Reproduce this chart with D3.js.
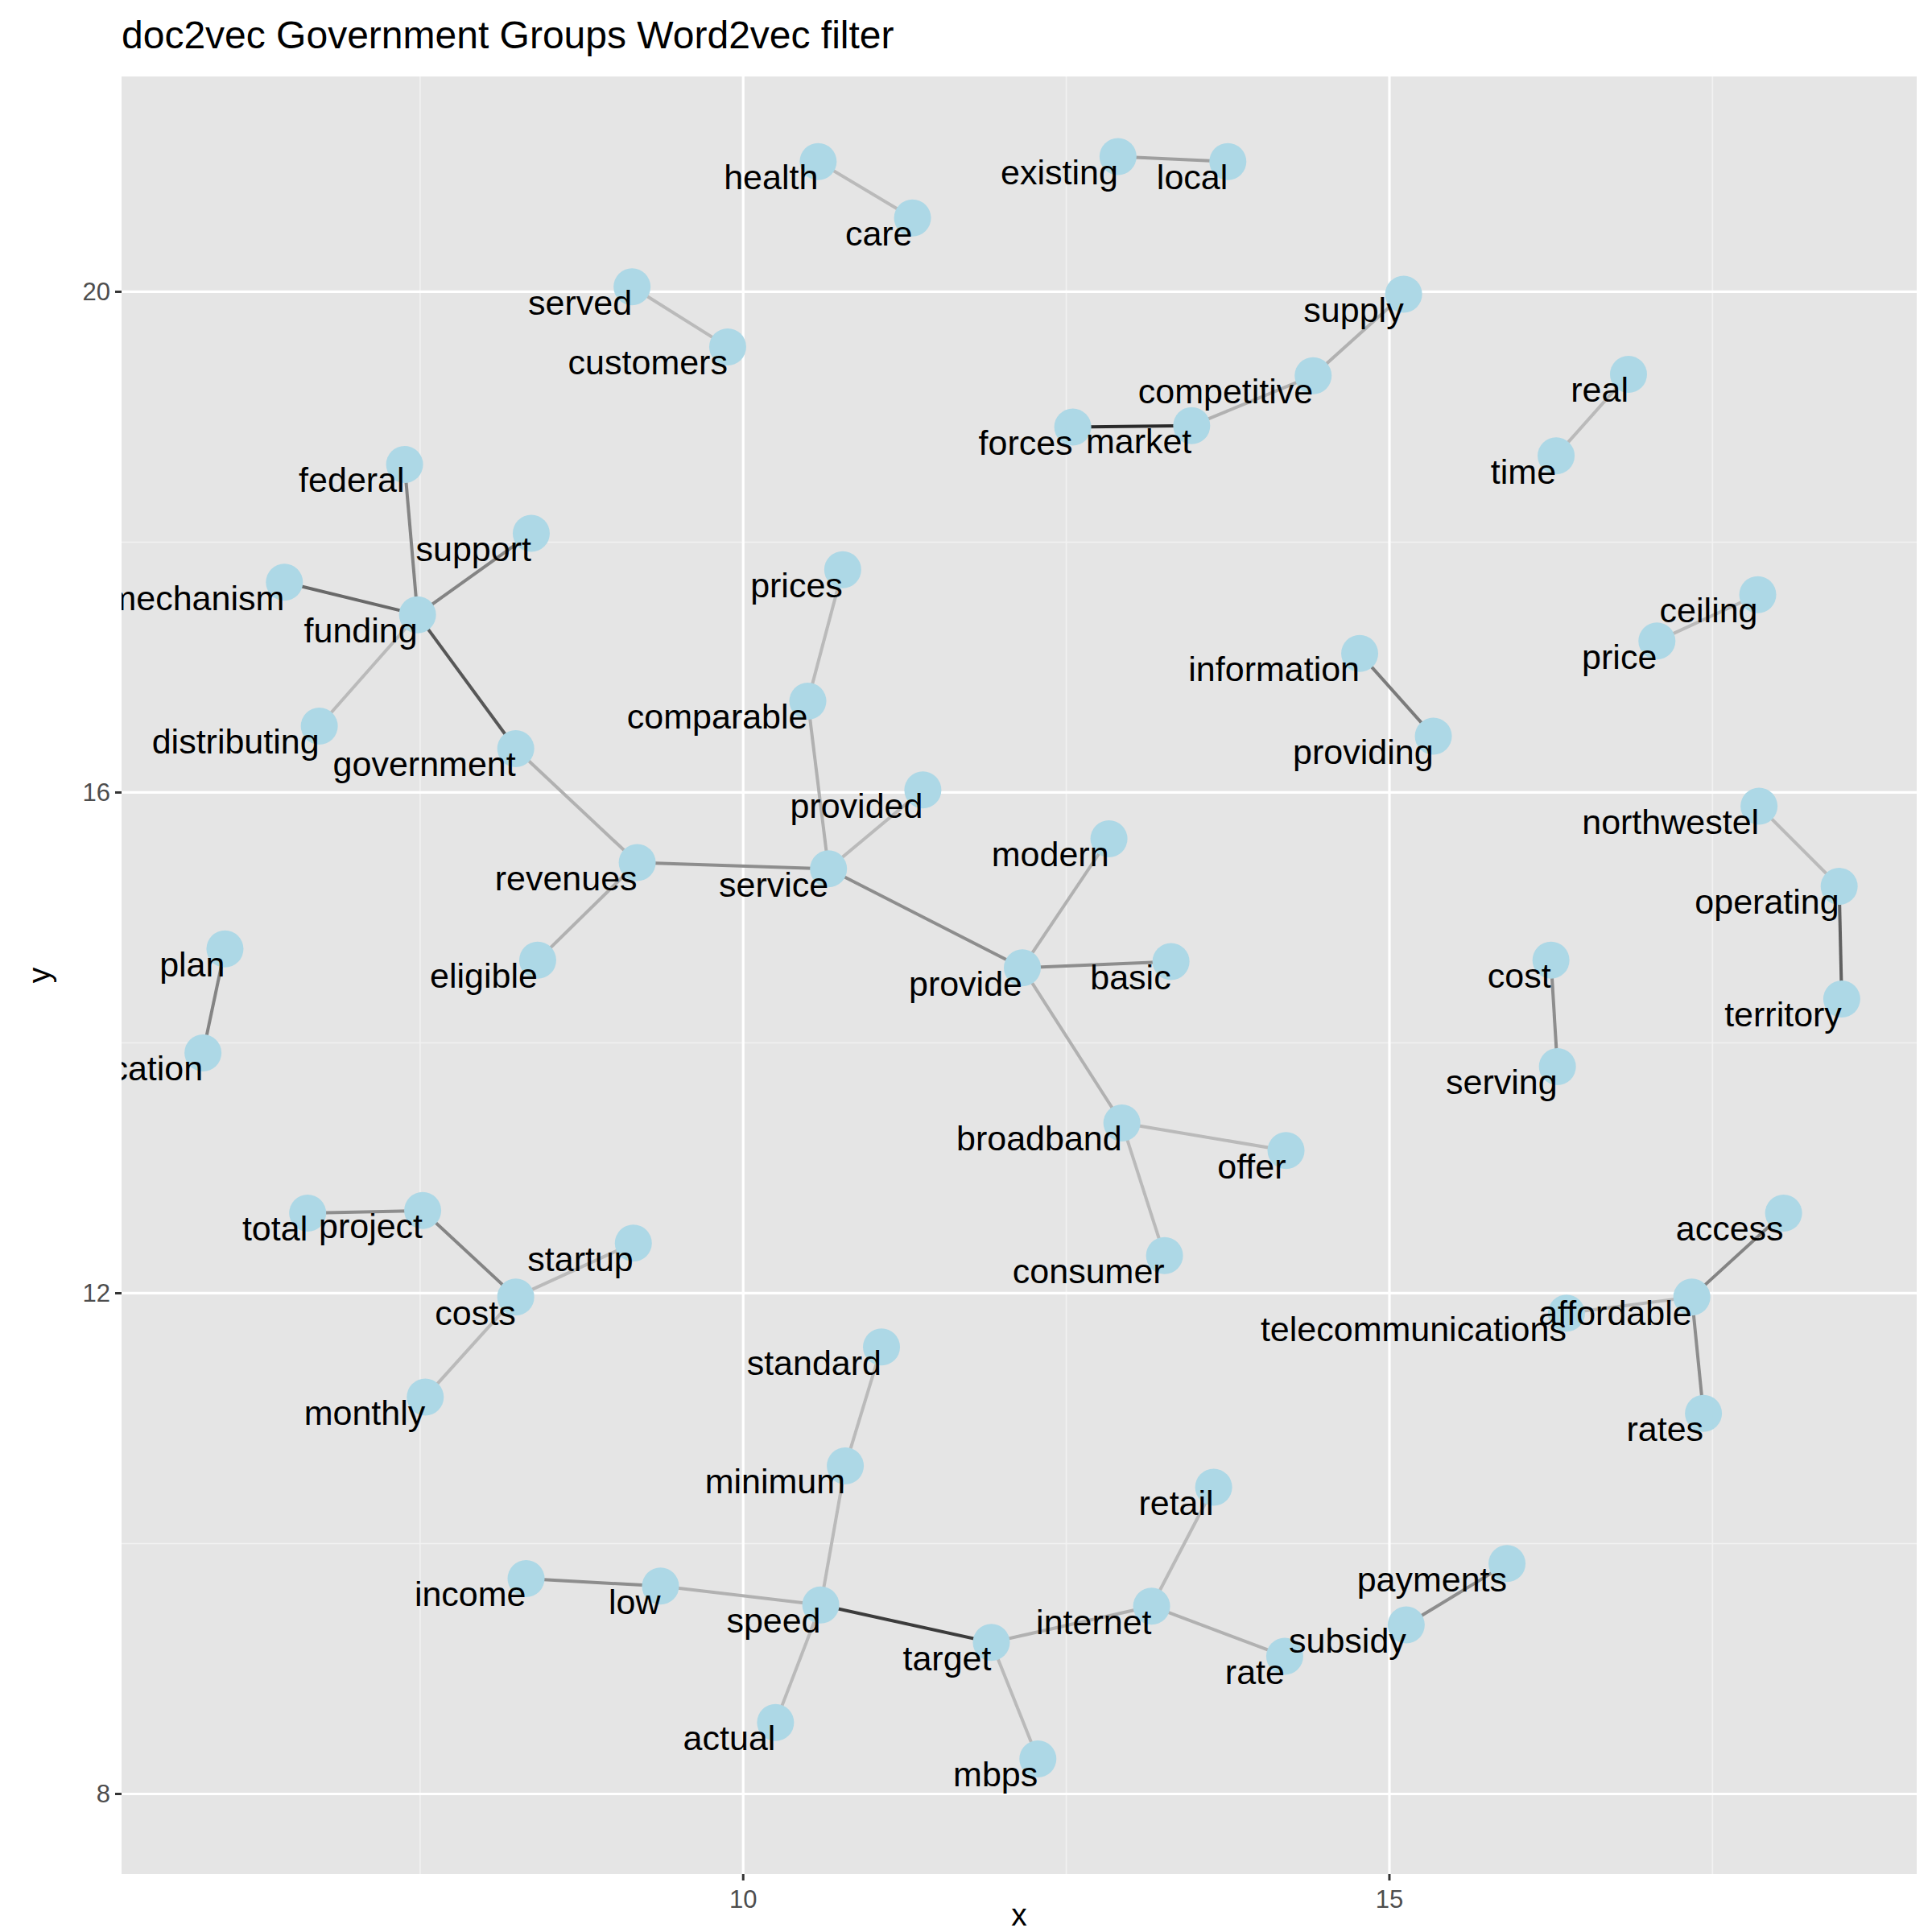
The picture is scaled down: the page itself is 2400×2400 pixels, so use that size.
<!DOCTYPE html>
<html><head><meta charset="utf-8">
<script src="https://cdn.jsdelivr.net/npm/d3@7"></script>
<style>body{margin:0;background:#fff;font-family:"Liberation Sans",Arial,sans-serif;}</style>
</head><body><svg id="chart" width="2400" height="2400"></svg>
<script>
// word positions
var words = ["health","care","existing","local","served","customers","supply","competitive","market","forces","real","time",
  "federal","support","mechanism","funding","distributing","government","prices","comparable","provided","service","revenues","eligible",
  "modern","provide","basic","information","providing","ceiling","price","northwestel","operating","territory","cost","serving",
  "plan","application","broadband","offer","consumer","total","project","costs","startup","monthly","access","affordable",
  "telecommunications","rates","standard","minimum","retail","income","low","speed","target","internet","rate","subsidy","payments","actual","mbps"];
var xs = [10.58,11.31,12.90,13.75,9.14,9.88,15.11,14.41,13.47,12.55,16.85,16.29,
  7.38,8.36,6.45,7.48,6.72,8.24,10.77,10.50,11.39,10.66,9.18,8.41,
  12.83,12.16,13.31,14.77,15.34,17.85,17.07,17.86,18.48,18.50,16.25,16.30,
  5.99,5.82,12.93,14.20,13.26,6.63,7.52,8.24,9.15,7.54,18.05,17.34,
  16.37,17.43,11.07,10.79,13.64,8.32,9.36,10.60,11.92,13.16,14.19,15.13,15.91,10.25,12.28];
var ys = [21.04,20.59,21.08,21.04,20.04,19.56,19.98,19.33,18.93,18.92,19.34,18.69,
  18.62,18.07,17.68,17.42,16.53,16.35,17.78,16.73,16.02,15.39,15.44,14.66,
  15.63,14.60,14.65,17.11,16.45,17.58,17.21,15.89,15.25,14.35,14.66,13.81,
  14.75,13.92,13.36,13.14,12.30,12.64,12.66,11.97,12.40,11.17,12.64,11.97,
  11.84,11.04,11.57,10.62,10.45,9.72,9.66,9.51,9.21,9.50,9.10,9.35,9.84,8.57,8.28];
// links: [from, to, strength]
var edges = [["health","care",0.2],["existing","local",0.35],["served","customers",0.2],["supply","competitive",0.25],
  ["competitive","market",0.25],["market","forces",1],["real","time",0.2],["federal","funding",0.5],["support","funding",0.5],
  ["mechanism","funding",0.65],["distributing","funding",0.2],["funding","government",0.75],["government","revenues",0.25],
  ["revenues","service",0.45],["revenues","eligible",0.25],["prices","comparable",0.2],["comparable","service",0.25],
  ["provided","service",0.2],["service","provide",0.45],["modern","provide",0.25],["provide","basic",0.45],
  ["provide","broadband",0.25],["broadband","offer",0.2],["broadband","consumer",0.2],["information","providing",0.55],
  ["ceiling","price",0.2],["northwestel","operating",0.2],["operating","territory",0.7],["cost","serving",0.45],
  ["plan","application",0.5],["total","project",0.45],["project","costs",0.5],["startup","costs",0.2],["monthly","costs",0.2],
  ["access","affordable",0.5],["telecommunications","affordable",0.2],["affordable","rates",0.45],["standard","minimum",0.2],
  ["minimum","speed",0.2],["income","low",0.45],["low","speed",0.25],["speed","target",0.9],["speed","actual",0.2],
  ["target","internet",0.25],["target","mbps",0.2],["internet","retail",0.2],["internet","rate",0.25],["subsidy","payments",0.45]];
var xTicks = [10,15], yTicks = [8,12,16,20];
var xMinor = [7.5,12.5,17.5], yMinor = [10,14,18];

var svg = d3.select("#chart");
var L = 151, R = 2381, T = 95, B = 2328;
var x = d3.scaleLinear().domain([5.19,19.08]).range([L,R]);
var y = d3.scaleLinear().domain([7.36,21.72]).range([B,T]);
var pos = {};
words.forEach((w,i) => pos[w] = [x(xs[i]), y(ys[i])]);

svg.append("defs").append("clipPath").attr("id","clip").append("rect")
  .attr("x",L).attr("y",T).attr("width",R-L).attr("height",B-T);
svg.append("rect").attr("x",L).attr("y",T).attr("width",R-L).attr("height",B-T).attr("fill","#e5e5e5");
var g = svg.append("g").attr("clip-path","url(#clip)");
xMinor.forEach(v => g.append("line").attr("x1",x(v)).attr("x2",x(v)).attr("y1",T).attr("y2",B).attr("stroke","#f2f2f2").attr("stroke-width",1.6));
yMinor.forEach(v => g.append("line").attr("y1",y(v)).attr("y2",y(v)).attr("x1",L).attr("x2",R).attr("stroke","#f2f2f2").attr("stroke-width",1.6));
xTicks.forEach(v => g.append("line").attr("x1",x(v)).attr("x2",x(v)).attr("y1",T).attr("y2",B).attr("stroke","#fff").attr("stroke-width",3.2));
yTicks.forEach(v => g.append("line").attr("y1",y(v)).attr("y2",y(v)).attr("x1",L).attr("x2",R).attr("stroke","#fff").attr("stroke-width",3.2));

var grey = d3.interpolateRgb("#dedede","#2a2a2a");
edges.forEach(e => {
  var a = pos[e[0]], b = pos[e[1]];
  g.append("line").attr("x1",a[0]).attr("y1",a[1]).attr("x2",b[0]).attr("y2",b[1])
    .attr("stroke",grey(e[2])).attr("stroke-width",4);
});
words.forEach(w => {
  g.append("circle").attr("cx",pos[w][0]).attr("cy",pos[w][1]).attr("r",23).attr("fill","#add8e6");
});
words.forEach(w => {
  g.append("text").attr("x",pos[w][0]).attr("y",pos[w][1]).attr("dy","0.8em")
    .attr("text-anchor","end").attr("font-size",43).attr("fill","#000").text(w);
});

// ticks
xTicks.forEach(v => {
  svg.append("line").attr("x1",x(v)).attr("x2",x(v)).attr("y1",B).attr("y2",B+8).attr("stroke","#333").attr("stroke-width",3);
  svg.append("text").attr("x",x(v)).attr("y",B+42).attr("text-anchor","middle").attr("font-size",31).attr("fill","#4d4d4d").text(v);
});
yTicks.forEach(v => {
  svg.append("line").attr("x1",L-8).attr("x2",L).attr("y1",y(v)).attr("y2",y(v)).attr("stroke","#333").attr("stroke-width",3);
  svg.append("text").attr("x",L-14).attr("y",y(v)).attr("dy","0.35em").attr("text-anchor","end").attr("font-size",31).attr("fill","#4d4d4d").text(v);
});
svg.append("text").attr("x",(L+R)/2).attr("y",2392).attr("text-anchor","middle").attr("font-size",39).text("x");
svg.append("text").attr("transform","translate(62,"+((T+B)/2)+") rotate(-90)").attr("text-anchor","middle").attr("font-size",39).text("y");
svg.append("text").attr("x",L).attr("y",60).attr("font-size",48).text("doc2vec Government Groups Word2vec filter");
</script></body></html>
